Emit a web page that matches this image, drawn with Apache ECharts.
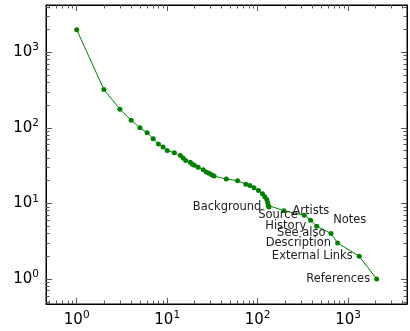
<!DOCTYPE html>
<html>
<head>
<meta charset="utf-8">
<script src="https://cdn.jsdelivr.net/npm/echarts@6/dist/echarts.min.js"></script>
<style>
	html, body { margin: 0; padding: 0; background: #fff; }
	#chart { width: 410px; height: 331px; }
</style>
</head>
<body>
<div id="chart"></div>
<script>
	// rank of section vs. number of occurrences
	var ranks = [1, 2, 3, 4, 5, 6, 7, 8, 9, 10, 12, 14, 15, 16, 18, 19, 20, 22, 25, 27, 29, 31, 33,
		45, 60, 74, 82, 91, 102, 113, 120, 126, 129, 131,
		133, 195, 327, 385, 449, 646, 765, 1327, 2065];
	var counts = [1990, 321, 176, 126, 100, 86, 72, 61, 56, 50, 47, 43, 40, 37, 35, 33, 32, 30, 28, 26, 25, 24, 23,
		21, 20, 18, 17.2, 16.1, 14.8, 13.4, 12.3, 11.3, 10.3, 9.4,
		9, 8, 7, 6, 5, 4, 3, 2, 1];
	var sectionNames = {
		133: 'Background',
		195: 'Artists',
		327: 'Source',
		385: 'Notes',
		449: 'History',
		646: 'See also',
		765: 'Description',
		1327: 'External Links',
		2065: 'References'
	};
	var majorTicks = [1, 10, 100, 1000];

	// where each annotation sits next to its point
	var labelPlace = {
		'Background': ['left', 5, 0],
		'Artists': ['right', 6, -1.5],
		'Source': ['left', 4, 0],
		'Notes': ['right', 20, 1],
		'History': ['left', 8, 0],
		'See also': ['left', 3, 0],
		'Description': ['left', 4, 0],
		'External Links': ['left', 4, 0],
		'References': ['left', 4, 0]
	};

	var fontName = 'DejaVu Sans';
	var xRange = [0.458, 4470];
	var yRange = [0.467, 4220];

	function minorList(range){
		var arr = [];
		for(var k = -1; k <= 3; k++){
			for(var m = 2; m <= 9; m++){
				var v = m * Math.pow(10, k);
				if(v > range[0] && v < range[1])
					arr.push(v);
			}
		}
		return arr;
	}

	function powLabel(margin){
		return {
			show: true,
			margin: margin,
			customValues: majorTicks,
			fontFamily: fontName,
			color: '#000',
			formatter: function(value){
				var e = Math.round(Math.log(value) / Math.LN10);
				return '{b|10}{s|' + e + '}';
			},
			rich: {
				b: { fontSize: 15, fontFamily: fontName, color: '#000', lineHeight: 20 },
				s: { fontSize: 10.5, fontFamily: fontName, color: '#000', verticalAlign: 'top', lineHeight: 14 }
			}
		};
	}

	function makeAxis(range, pos, major, withLabel){
		return {
			type: 'log',
			logBase: 10,
			min: range[0],
			max: range[1],
			position: pos,
			splitLine: { show: false },
			axisLine: { show: major, lineStyle: { color: '#000', width: 1 } },
			axisTick: {
				show: true,
				inside: true,
				length: major ? 6 : 3.5,
				customValues: major ? majorTicks : minorList(range),
				lineStyle: { color: '#555', width: 1 }
			},
			axisLabel: withLabel ? powLabel(pos == 'left' ? 7 : 6) : { show: false }
		};
	}

	var seriesData = [];
	for(var i = 0; i < ranks.length; i++){
		var item = { value: [ranks[i], counts[i]] };
		var secName = sectionNames[ranks[i]];
		if(secName){
			var place = labelPlace[secName];
			item.label = {
				show: true,
				formatter: secName,
				position: place[0],
				distance: place[1],
				offset: [0, place[2]],
				fontFamily: fontName,
				fontSize: 11.5,
				color: '#222'
			};
		}
		seriesData.push(item);
	}

	var chart = echarts.init(document.getElementById('chart'));
	chart.setOption({
		animation: false,
		backgroundColor: '#fff',
		grid: {
			left: 46, right: 3, top: 5, bottom: 27,
			show: true, borderColor: '#000', borderWidth: 1,
			containLabel: false
		},
		xAxis: [
			makeAxis(xRange, 'bottom', true, true),
			makeAxis(xRange, 'bottom', false, false),
			makeAxis(xRange, 'top', true, false),
			makeAxis(xRange, 'top', false, false)
		],
		yAxis: [
			makeAxis(yRange, 'left', true, true),
			makeAxis(yRange, 'left', false, false),
			makeAxis(yRange, 'right', true, false),
			makeAxis(yRange, 'right', false, false)
		],
		series: [{
			type: 'line',
			xAxisIndex: 0,
			yAxisIndex: 0,
			data: seriesData,
			symbol: 'circle',
			symbolSize: 5,
			lineStyle: { color: '#008000', width: 1 },
			itemStyle: { color: '#008000' },
			labelLayout: { hideOverlap: false }
		}]
	});
</script>
</body>
</html>
